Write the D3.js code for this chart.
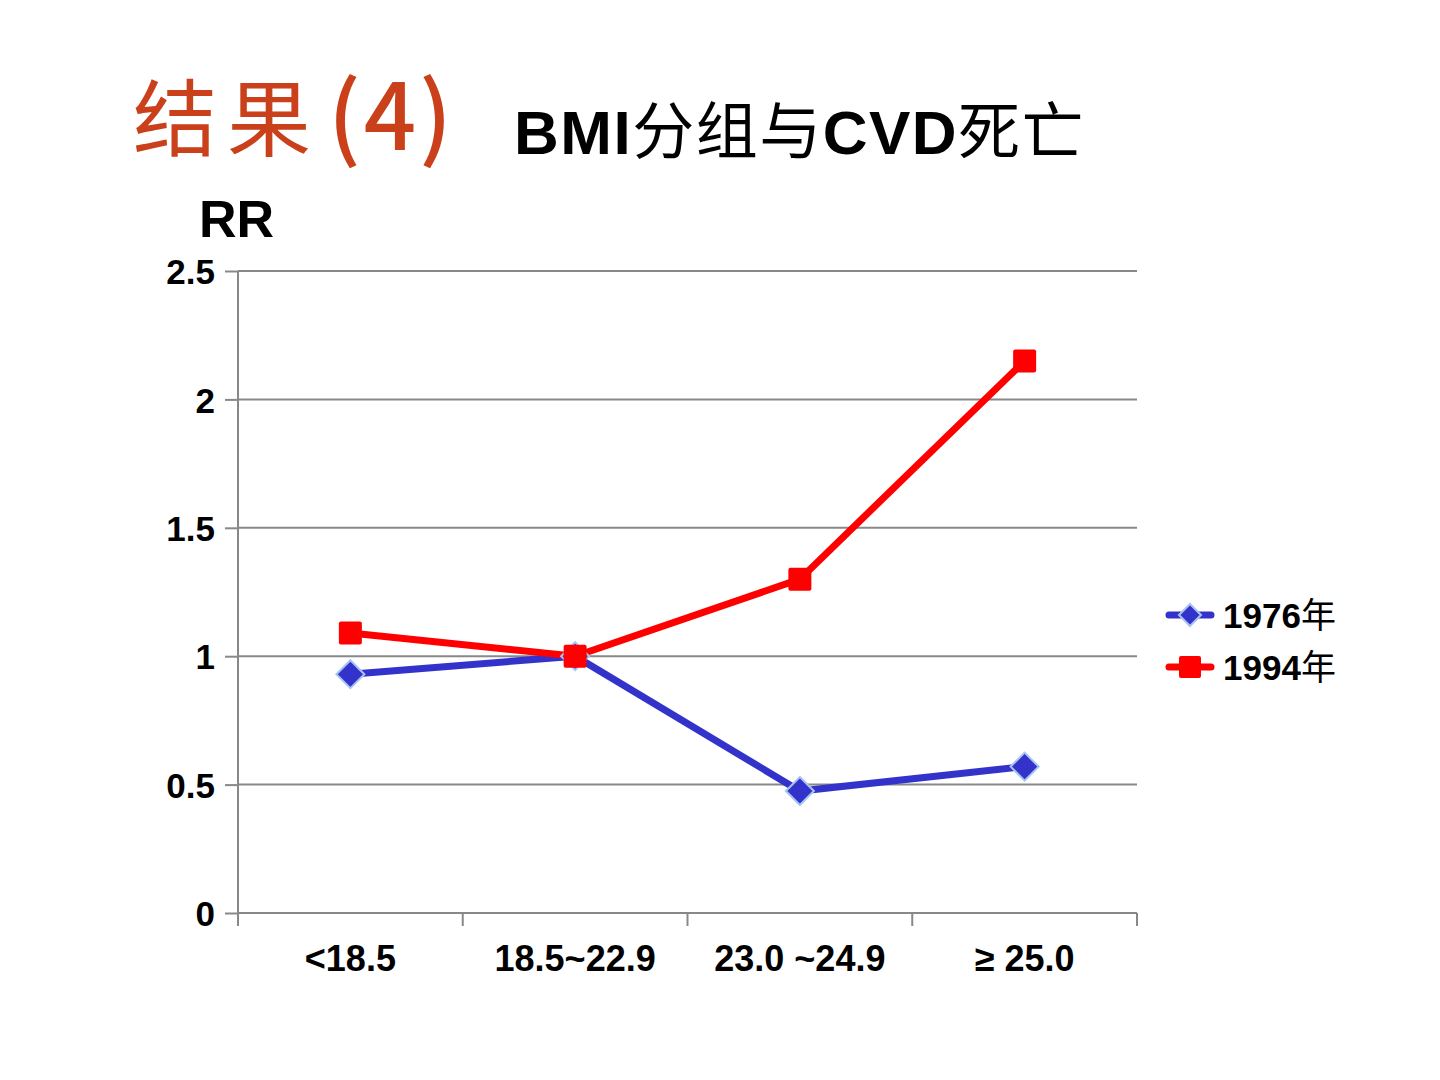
<!DOCTYPE html>
<html><head><meta charset="utf-8">
<script src="https://cdn.jsdelivr.net/npm/d3@7"></script>
<style>body{margin:0;background:#fff}</style>
</head><body>
<svg id="c" width="1440" height="1080"></svg>
<script>
const categories = ["<18.5", "18.5~22.9", "23.0 ~24.9", "≥ 25.0"];
const series1976 = [0.93, 1.0, 0.475, 0.57];
const series1994 = [1.09, 1.0, 1.30, 2.15];
const yTicks = [0, 0.5, 1, 1.5, 2, 2.5];
const yTickLabels = ["0", "0.5", "1", "1.5", "2", "2.5"];
const seriesNames = ["1976年", "1994年"];

const svg = d3.select("#c");
const L = 238, R = 1137, T = 271, B = 913;
const x = d3.scaleBand().domain(categories).range([L, R]);
const y = d3.scaleLinear().domain([0, 2.5]).range([B, T]);

// Titles
const t1 = svg.append("text").attr("y", 150).attr("fill", "#c9401a")
  .attr("font-family", "'Noto Sans CJK SC'");
t1.append("tspan").attr("x", 133).attr("font-weight", 400).attr("font-size", 84).attr("letter-spacing", 10).text("结果");
t1.append("tspan").attr("x", 328).attr("font-weight", 500).attr("font-size", 92).attr("letter-spacing", 3).text("(4)");

const t2 = svg.append("text").attr("x", 514).attr("y", 154).attr("font-size", 62).attr("letter-spacing", 1.5).attr("fill", "#000");
t2.append("tspan").attr("font-family", "'Liberation Sans', Arial").attr("font-weight", "bold").text("BMI");
t2.append("tspan").attr("font-family", "'Noto Sans CJK SC'").attr("font-weight", 400).text("分组与");
t2.append("tspan").attr("font-family", "'Liberation Sans', Arial").attr("font-weight", "bold").text("CVD");
t2.append("tspan").attr("font-family", "'Noto Sans CJK SC'").attr("font-weight", 400).text("死亡");

svg.append("text").attr("x", 199).attr("y", 237).attr("font-family", "'Liberation Sans', Arial")
  .attr("font-weight", "bold").attr("font-size", 52).text("RR");

// Gridlines
svg.append("g").selectAll("line").data(yTicks).join("line")
  .attr("x1", L).attr("x2", R).attr("y1", d => y(d)).attr("y2", d => y(d))
  .attr("stroke", "#888").attr("stroke-width", 2);

// Y axis
const yAxis = d3.axisLeft(y).tickValues(yTicks).tickFormat((d, i) => yTickLabels[i]).tickSize(13).tickPadding(10);
const gy = svg.append("g").attr("transform", `translate(${L},0)`).call(yAxis);
gy.select(".domain").attr("stroke", "#888").attr("stroke-width", 2).attr("d", `M0,${T}V${B + 12}`);
gy.selectAll(".tick line").attr("stroke", "#888").attr("stroke-width", 2);
gy.selectAll(".tick text").attr("font-family", "'Liberation Sans', Arial").attr("font-weight", "bold")
  .attr("font-size", 35).attr("fill", "#000").attr("dy", "0.36em");

// X axis ticks at band boundaries
const bounds = categories.map(c => x(c)).concat([R]);
svg.append("g").selectAll("line").data(bounds).join("line")
  .attr("x1", d => d).attr("x2", d => d).attr("y1", B).attr("y2", B + 13)
  .attr("stroke", "#888").attr("stroke-width", 2);
svg.append("g").selectAll("text").data(categories).join("text")
  .attr("x", d => x(d) + x.bandwidth() / 2).attr("y", 971).attr("text-anchor", "middle")
  .attr("font-family", "'Liberation Sans Narrow', 'Liberation Sans', Arial").attr("font-weight", "bold")
  .attr("font-size", 36).attr("fill", "#000").text(d => d);

const cx = c => x(c) + x.bandwidth() / 2;
const line = d3.line().x((d, i) => cx(categories[i])).y(d => y(d));

const blue = "#3333cc", red = "#ff0000";
svg.append("path").attr("d", line(series1976)).attr("fill", "none").attr("stroke", blue).attr("stroke-width", 7);
svg.append("path").attr("d", line(series1994)).attr("fill", "none").attr("stroke", red).attr("stroke-width", 7);

const diamond = (g, px, py, s) => g.append("path")
  .attr("d", `M${px},${py - s}L${px + s},${py}L${px},${py + s}L${px - s},${py}Z`)
  .attr("fill", blue).attr("stroke", "#a8c4f0").attr("stroke-width", 2);
const square = (g, px, py, s) => g.append("rect")
  .attr("x", px - s / 2).attr("y", py - s / 2).attr("width", s).attr("height", s).attr("rx", 2)
  .attr("fill", red);

series1976.forEach((v, i) => diamond(svg, cx(categories[i]), y(v), 14));
series1994.forEach((v, i) => square(svg, cx(categories[i]), y(v), 23));

// Legend
const lg = [[blue, 615], [red, 667]];
lg.forEach(([col, ly], i) => {
  svg.append("line").attr("x1", 1169).attr("x2", 1211).attr("y1", ly).attr("y2", ly)
    .attr("stroke", col).attr("stroke-width", 7).attr("stroke-linecap", "round");
  if (i === 0) diamond(svg, 1190, ly, 11); else square(svg, 1190, ly, 22);
  const t = svg.append("text").attr("x", 1223).attr("y", ly + 13).attr("font-size", 35).attr("fill", "#000");
  t.append("tspan").attr("font-family", "'Liberation Sans', Arial").attr("font-weight", "bold").text(seriesNames[i].slice(0, 4));
  t.append("tspan").attr("font-family", "'Noto Sans CJK SC'").attr("font-weight", 400).text(seriesNames[i].slice(4));
});
</script>
</body></html>
